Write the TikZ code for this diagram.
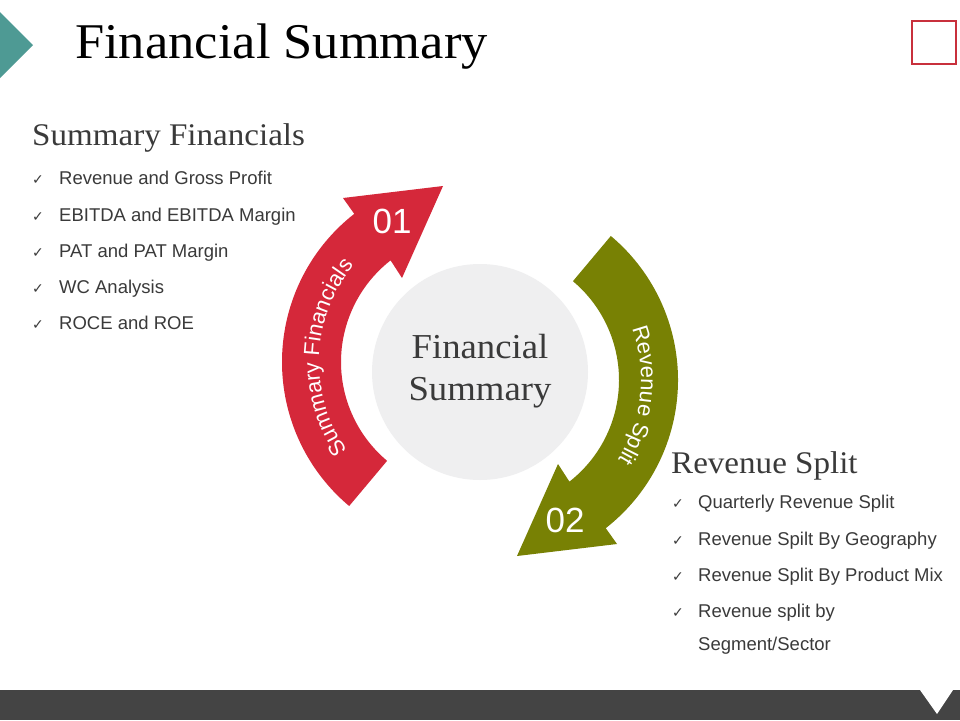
\documentclass[tikz,border=0pt]{standalone}
\usepackage{fontspec}
\setmainfont{Liberation Sans}
\newfontfamily\hdfont[FakeStretch=1.05]{Liberation Serif}
\newfontfamily\symfont{DejaVu Sans}
\usetikzlibrary{decorations.text}
\definecolor{tealc}{HTML}{4E9A94}
\definecolor{redc}{HTML}{D5283A}
\definecolor{olivec}{HTML}{788104}
\definecolor{circc}{HTML}{EFEFF0}
\definecolor{barc}{HTML}{444444}
\definecolor{sqc}{HTML}{C8303C}
\definecolor{txtc}{HTML}{3A3A3A}
\newcommand{\arcfont}{\fontsize{22}{26}\selectfont\color{white}}
\newcommand{\arrowshape}{(128:188) arc[start angle=128, end angle=230, radius=188] -- (230:129) arc[start angle=230, end angle=128, radius=129] -- (-68,84) -- (-27,176) -- (-127,164) -- cycle}
\tikzset{
  titletxt/.style={anchor=base west, inner sep=0, text=black, font=\hdfont\fontsize{50}{60}\selectfont},
  headtxt/.style={anchor=base west, inner sep=0, text=txtc, font=\hdfont\fontsize{31.5}{36}\selectfont},
  hubtxt/.style={anchor=base, inner sep=0, text=txtc, font=\hdfont\fontsize{35}{42}\selectfont},
  itemtxt/.style={anchor=base west, inner sep=0, text=txtc, font=\fontsize{18.5}{22}\selectfont},
  tick/.style={anchor=base, inner sep=0, text=txtc, font=\symfont\fontsize{14}{16}\selectfont},
  numtxt/.style={inner sep=0, text=white, font=\fontsize{35}{40}\selectfont}
}
\begin{document}
\begin{tikzpicture}[x=1pt,y=-1pt]
\useasboundingbox (0,0) rectangle (960,720);
\fill[white] (0,0) rectangle (960,720);
% decorations of the slide
\fill[tealc] (0,12) -- (33,45) -- (0,78) -- cycle;
\draw[sqc, line width=2pt] (912,21) rectangle (956,64);
\fill[barc] (0,690) rectangle (960,720);
\fill[white] (920,690) -- (953,690) -- (937,714) -- cycle;
% title
\node[titletxt] (title) at (75,58) {Financial Summary};
% hub
\node[circle, fill=circc, minimum size=216pt, inner sep=0] (hub) at (480,372) {};
\node[hubtxt] (hub1) at (480,358) {Financial};
\node[hubtxt] (hub2) at (480,400) {Summary};
% red arrow
\begin{scope}[shift={(470,362)}, yscale=-1]
  \fill[redc] \arrowshape;
  \path[decorate, decoration={text along path, text align=center, text={|\arcfont|Summary Financials}}]
    (229:151) arc[start angle=229, end angle=127, radius=151];
\end{scope}
% green arrow
\begin{scope}[shift={(490,380)}, yscale=-1, rotate=180]
  \fill[olivec] \arrowshape;
  \path[decorate, decoration={text along path, text align=center, text={|\arcfont|Revenue Split}}]
    (225:151) arc[start angle=225, end angle=123, radius=151];
\end{scope}
\node[numtxt] (n1) at (392,221) {01};
\node[numtxt] (n2) at (565,520) {02};
% left list
\node[headtxt] (h1) at (32,145) {Summary Financials};
\node[tick] (t1) at (38,184) {✓};
\node[itemtxt] (i1) at (59,184) {Revenue and Gross Profit};
\node[tick] (t2) at (38,221) {✓};
\node[itemtxt] (i2) at (59,221) {EBITDA and EBITDA Margin};
\node[tick] (t3) at (38,257) {✓};
\node[itemtxt] (i3) at (59,257) {PAT and PAT Margin};
\node[tick] (t4) at (38,293) {✓};
\node[itemtxt] (i4) at (59,293) {WC Analysis};
\node[tick] (t5) at (38,329) {✓};
\node[itemtxt] (i5) at (59,329) {ROCE and ROE};
% right list
\node[headtxt] (h2) at (671,473) {Revenue Split};
\node[tick] (r1) at (678,508) {✓};
\node[itemtxt] (j1) at (698,508) {Quarterly Revenue Split};
\node[tick] (r2) at (678,545) {✓};
\node[itemtxt] (j2) at (698,545) {Revenue Spilt By Geography};
\node[tick] (r3) at (678,581) {✓};
\node[itemtxt] (j3) at (698,581) {Revenue Split By Product Mix};
\node[tick] (r4) at (678,617) {✓};
\node[itemtxt] (j4) at (698,617) {Revenue split by};
\node[itemtxt] (j5) at (698,650) {Segment/Sector};
\end{tikzpicture}
\end{document}
